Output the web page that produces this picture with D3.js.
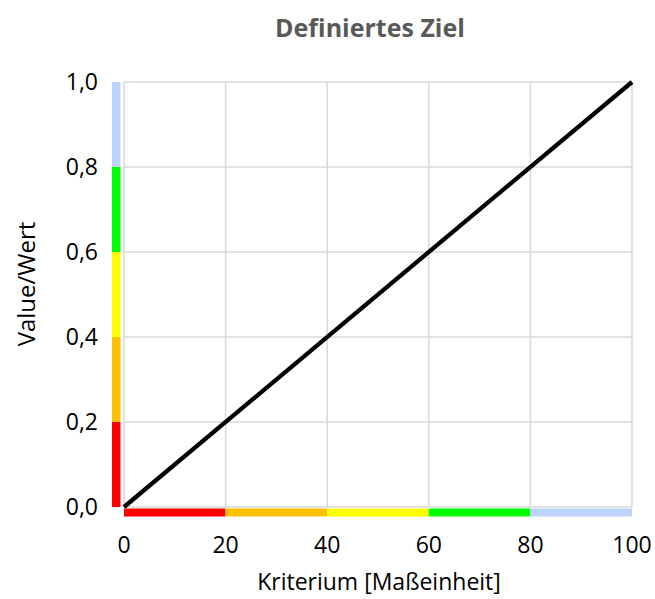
<!DOCTYPE html>
<html>
<head>
<meta charset="utf-8">
<script src="https://cdn.jsdelivr.net/npm/d3@7"></script>
<style>
  body { margin: 0; background: #fff; }
  text { font-family: "Open Sans", "Noto Sans", sans-serif; }
</style>
</head>
<body>
<div id="chart"></div>
<script>
// data
const xTicks = [0, 20, 40, 60, 80, 100];
const yTicks = [0, 0.2, 0.4, 0.6, 0.8, 1.0];
const lineX = [0, 100];
const lineY = [0, 1];
const bandColors = ["#FF0000", "#FFC000", "#FFFF00", "#00FF00", "#BBD3FD"];
const xBands = [[0, 20], [20, 40], [40, 60], [60, 80], [80, 100]];
const yBands = [[0, 0.2], [0.2, 0.4], [0.4, 0.6], [0.6, 0.8], [0.8, 1.0]];

const W = 655, H = 599;
const margin = { top: 82, right: 23, bottom: 92, left: 124 };
const width = W - margin.left - margin.right;
const height = H - margin.top - margin.bottom;

const svg = d3.select("#chart").append("svg")
    .attr("width", W)
    .attr("height", H);

const g = svg.append("g")
    .attr("transform", "translate(" + margin.left + "," + margin.top + ")");

const x = d3.scaleLinear().domain([0, 100]).range([0, width]);
const y = d3.scaleLinear().domain([0, 1]).range([height, 0]);

// gridlines
g.append("g").selectAll("line")
    .data(xTicks)
    .enter().append("line")
    .attr("x1", d => x(d)).attr("x2", d => x(d))
    .attr("y1", 0).attr("y2", height)
    .style("stroke", "#d9d9d9").style("stroke-width", 1.5);

g.append("g").selectAll("line")
    .data(yTicks)
    .enter().append("line")
    .attr("x1", 0).attr("x2", width)
    .attr("y1", d => y(d)).attr("y2", d => y(d))
    .style("stroke", "#d9d9d9").style("stroke-width", 1.5);

// colored bands along the axes
g.append("g").selectAll("rect")
    .data(xBands)
    .enter().append("rect")
    .attr("x", d => x(d[0]))
    .attr("width", d => x(d[1]) - x(d[0]))
    .attr("y", height + 1.5)
    .attr("height", 8)
    .style("fill", (d, i) => bandColors[i]);

g.append("g").selectAll("rect")
    .data(yBands)
    .enter().append("rect")
    .attr("x", -12)
    .attr("width", 8.5)
    .attr("y", d => y(d[1]))
    .attr("height", d => y(d[0]) - y(d[1]))
    .style("fill", (d, i) => bandColors[i]);

// diagonal line
const line = d3.line()
    .x(d => x(d[0]))
    .y(d => y(d[1]));

g.append("path")
    .datum(lineX.map((v, i) => [v, lineY[i]]))
    .attr("d", line)
    .style("fill", "none")
    .style("stroke", "#000")
    .style("stroke-width", 4.25);

// tick labels
const fmt = d3.format(".1f");
g.append("g").selectAll("text")
    .data(yTicks)
    .enter().append("text")
    .attr("x", -26)
    .attr("y", d => y(d))
    .attr("dy", "0.35em")
    .style("text-anchor", "end")
    .style("font-size", "23px")
    .style("fill", "#000")
    .text(d => fmt(d).replace(".", ","));

g.append("g").selectAll("text")
    .data(xTicks)
    .enter().append("text")
    .attr("x", d => x(d))
    .attr("y", height + 46)
    .style("text-anchor", "middle")
    .style("font-size", "23px")
    .style("fill", "#000")
    .text(d => d);

// title and axis titles
svg.append("text")
    .attr("x", 370)
    .attr("y", 37)
    .style("text-anchor", "middle")
    .style("font-size", "25px")
    .style("font-weight", "bold")
    .style("fill", "#595959")
    .text("Definiertes Ziel");

svg.append("text")
    .attr("x", 379)
    .attr("y", 590)
    .style("text-anchor", "middle")
    .style("font-size", "23px")
    .style("fill", "#000")
    .text("Kriterium [Maßeinheit]");

svg.append("text")
    .attr("transform", "translate(35,284) rotate(-90)")
    .style("text-anchor", "middle")
    .style("font-size", "24px")
    .style("fill", "#000")
    .text("Value/Wert");
</script>
</body>
</html>
